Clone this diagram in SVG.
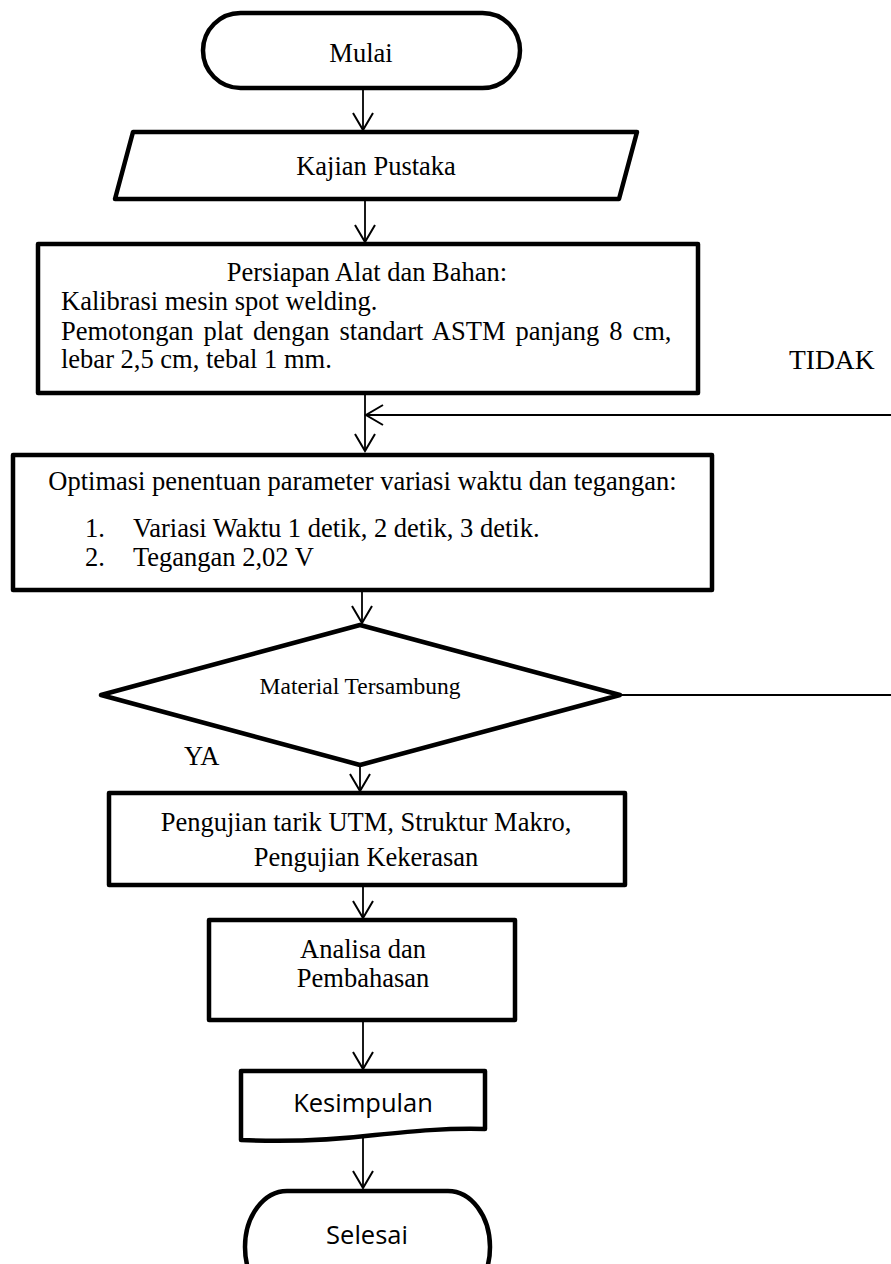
<svg xmlns="http://www.w3.org/2000/svg" width="891" height="1264" viewBox="0 0 891 1264">
<style>
.shape{fill:#fff;stroke:#000;stroke-width:4.5;stroke-linejoin:round}
.conn{fill:none;stroke:#000;stroke-width:1.8}
.t{font-family:"Liberation Serif","Times New Roman",serif;font-size:26.5px;fill:#000}
.s{font-family:"Open Sans","Noto Sans",sans-serif;font-size:25.5px;fill:#000}
.m{text-anchor:middle}
</style>
<defs>
<marker id="arr" viewBox="0 0 20 22" refX="18" refY="11" markerWidth="20" markerHeight="22" markerUnits="userSpaceOnUse" orient="auto">
<path d="M1,1 L18,11 L1,21" fill="none" stroke="#000" stroke-width="2"/>
</marker>
</defs>
<rect width="891" height="1264" fill="#fff"/>
<g id="connectors">
<path class="conn" d="M363,88 V130" marker-end="url(#arr)"/>
<path class="conn" d="M365,199 V242" marker-end="url(#arr)"/>
<path class="conn" d="M365,393 V451" marker-end="url(#arr)"/>
<path class="conn" d="M891,415 H366" marker-end="url(#arr)"/>
<path class="conn" d="M362,590 V623" marker-end="url(#arr)"/>
<path class="conn" d="M620,695 H891"/>
<path class="conn" d="M360,765 V791" marker-end="url(#arr)"/>
<path class="conn" d="M363,885 V918" marker-end="url(#arr)"/>
<path class="conn" d="M363,1020 V1069" marker-end="url(#arr)"/>
<path class="conn" d="M363,1133 V1188" marker-end="url(#arr)"/>
</g>
<g id="mulai">
<rect class="shape" x="203" y="13" width="317" height="75" rx="37.5" ry="37.5"/>
<text class="t m" x="361" y="62">Mulai</text>
</g>
<g id="kajian">
<polygon class="shape" points="133,132 637,132 619,199 115,199"/>
<text class="t m" x="376" y="175">Kajian Pustaka</text>
</g>
<g id="persiapan">
<rect class="shape" x="38" y="244" width="660" height="149"/>
<text class="t m" x="367" y="281">Persiapan Alat dan Bahan:</text>
<text class="t" x="61" y="310">Kalibrasi mesin spot welding.</text>
<text class="t" x="61" y="340" word-spacing="3.3">Pemotongan plat dengan standart ASTM panjang 8 cm,</text>
<text class="t" x="61" y="368">lebar 2,5 cm, tebal 1 mm.</text>
</g>
<text id="tidak" class="t" x="789" y="369" style="font-size:27.5px">TIDAK</text>
<g id="optimasi">
<rect class="shape" x="13" y="455" width="699" height="135"/>
<text class="t m" x="362.5" y="490">Optimasi penentuan parameter variasi waktu dan tegangan:</text>
<text class="t" x="85" y="537">1.</text>
<text class="t" x="133" y="537">Variasi Waktu 1 detik, 2 detik, 3 detik.</text>
<text class="t" x="85" y="566">2.</text>
<text class="t" x="133" y="566">Tegangan 2,02 V</text>
</g>
<g id="material">
<polygon class="shape" points="360,625 620,695 360,765 101,695"/>
<text class="t m" x="360" y="694" style="font-size:23.5px">Material Tersambung</text>
</g>
<text id="ya" class="t" x="184" y="765">YA</text>
<g id="pengujian">
<rect class="shape" x="109" y="793" width="516" height="92"/>
<text class="t m" x="366" y="831">Pengujian tarik UTM, Struktur Makro,</text>
<text class="t m" x="366" y="866">Pengujian Kekerasan</text>
</g>
<g id="analisa">
<rect class="shape" x="209" y="920" width="306" height="100"/>
<text class="t m" x="363" y="958">Analisa dan</text>
<text class="t m" x="363" y="987">Pembahasan</text>
</g>
<g id="kesimpulan">
<path class="shape" d="M241,1071 H485 V1129 C445,1128 415,1131 375,1135 C325,1141 285,1142 241,1140 Z"/>
<text class="s m" x="363" y="1112">Kesimpulan</text>
</g>
<g id="selesai">
<rect class="shape" x="245" y="1191" width="245" height="112" rx="42" ry="56"/>
<text class="s m" x="367" y="1244">Selesai</text>
</g>
</svg>
